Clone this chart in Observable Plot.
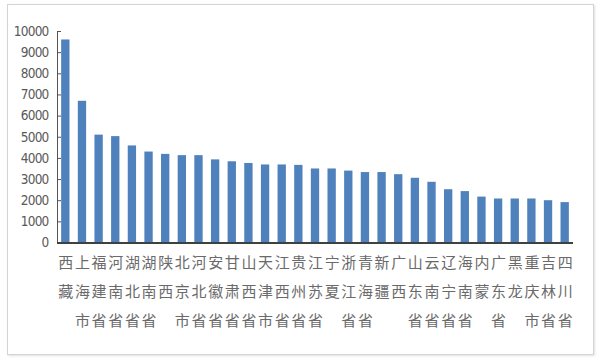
<!DOCTYPE html>
<html>
<head>
<meta charset="utf-8">
<script src="https://cdn.jsdelivr.net/npm/d3@7"></script>
<script src="https://cdn.jsdelivr.net/npm/@observablehq/plot@0.6"></script>
<style>
  html, body { margin: 0; padding: 0; background: #fff; }
  #wrap { position: relative; width: 600px; height: 360px; }
  #frame { position: absolute; left: 7px; top: 4px; width: 585px; height: 349px;
           border: 1px solid #d4d4d4; box-shadow: 1px 1px 2px rgba(0,0,0,0.12); pointer-events: none; }
  .yax text { font-stretch: condensed; letter-spacing: -0.8px; }
</style>
</head>
<body>
<div id="wrap"><div id="frame"></div></div>
<script>
const provinces = ["西藏","上海市","福建省","河南省","湖北省","湖南省","陕西","北京市","河北省","安徽省","甘肃省","山西省","天津市","江西省","贵州省","江苏省","宁夏","浙江省","青海省","新疆","广西","山东省","云南省","辽宁省","海南省","内蒙","广东省","黑龙","重庆市","吉林省","四川省"];
const values = [9600,6700,5100,5030,4590,4300,4190,4130,4130,3930,3840,3760,3690,3690,3670,3500,3500,3400,3330,3330,3230,3060,2870,2520,2430,2170,2080,2080,2080,2000,1910];
const yTicks = [0,1000,2000,3000,4000,5000,6000,7000,8000,9000,10000];

const data = provinces.map((p, i) => ({name: p, value: values[i]}));

const chart = Plot.plot({
  width: 600,
  height: 360,
  marginLeft: 57,
  marginRight: 27,
  marginTop: 31,
  marginBottom: 117.5,
  style: {background: "transparent", overflow: "visible"},
  x: {domain: provinces, paddingInner: 0.5, paddingOuter: 0.25, round: false},
  y: {domain: [0, 10000]},
  marks: [
    Plot.barY(data, {x: "name", y: "value", fill: "#4f81bd"}),
    Plot.axisY({ticks: yTicks, tickSize: 0, tickPadding: 9, fontSize: 13.5,
      fontFamily: "'DejaVu Sans Condensed', 'Liberation Sans Narrow', sans-serif",
      fill: "#595959", label: null, className: "yax", tickFormat: d => String(d)}),
    Plot.axisY({ticks: yTicks, tickSize: 4, dx: 4, text: null, label: null, stroke: "#555"}),
    Plot.frame({anchor: "left", stroke: "#555"}),
    Plot.ruleY([0], {stroke: "#404040", strokeWidth: 2}),
    Plot.axisX({tickSize: 0, tickPadding: 4.5, label: null, fontSize: 15, lineHeight: 1.93,
      fontFamily: "'Noto Sans CJK SC', sans-serif", fill: "#6a6a6a",
      tickFormat: d => d.split("").join("\n")})
  ]
});
document.getElementById("wrap").prepend(chart);
</script>
</body>
</html>
